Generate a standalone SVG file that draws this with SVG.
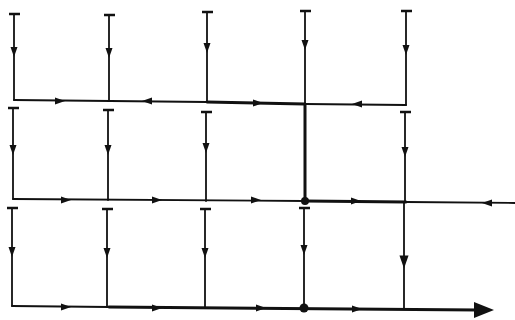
<svg xmlns="http://www.w3.org/2000/svg" width="515" height="320" viewBox="0 0 515 320">
<style>
.ln{stroke:#111;stroke-width:1.8;fill:none;stroke-linecap:round}
.tk{stroke:#111;stroke-width:3;fill:none;stroke-linecap:round}
.cap{stroke:#111;stroke-width:2.5;stroke-linecap:butt}
.ah{fill:#111}
.dot{fill:#111}
</style>
<defs>
<path id="a" class="ah" d="M-3.5,-5 L3.5,-5 L0,5 Z"/>
</defs>
<rect width="515" height="320" fill="#fff"/>
<g id="connectors">
<!-- horizontal rows -->
<path class="ln" d="M14,100 L207,102"/>
<path class="tk" d="M207,102 L305,104"/>
<path class="ln" d="M305,104 L406,105"/>
<path class="ln" d="M13,199 L305,201"/>
<path class="tk" d="M305,201 L406,202"/>
<path class="ln" d="M406,202 L515,203"/>
<path class="ln" d="M12,306 L109,307"/>
<path class="tk" d="M109,307 L478,310"/>
<!-- verticals row 1 -->
<path class="ln" d="M14,14 L14,100"/>
<path class="ln" d="M109,15 L109,101"/>
<path class="ln" d="M207,12 L207,102"/>
<path class="ln" d="M305,11 L305,104"/>
<path class="ln" d="M406,11 L406,105"/>
<!-- verticals row 2 -->
<path class="ln" d="M13,108 L13,199"/>
<path class="ln" d="M108,110 L108,200"/>
<path class="ln" d="M206,112 L206,201"/>
<path class="tk" d="M305,104 L305,201"/>
<path class="ln" d="M405,112 L405,202"/>
<!-- verticals row 3 -->
<path class="ln" d="M12,208 L12,306"/>
<path class="ln" d="M107,209 L107,307"/>
<path class="ln" d="M205,209 L205,308"/>
<path class="ln" d="M304,208 L304,308"/>
<path class="ln" d="M404,202 L404,309"/>
<!-- arrows down -->
<use href="#a" transform="translate(14,52)"/>
<use href="#a" transform="translate(109,53)"/>
<use href="#a" transform="translate(207,48)"/>
<use href="#a" transform="translate(305,45)"/>
<use href="#a" transform="translate(406,50)"/>
<use href="#a" transform="translate(13,150)"/>
<use href="#a" transform="translate(108,150)"/>
<use href="#a" transform="translate(206,148)"/>
<use href="#a" transform="translate(405,152)"/>
<use href="#a" transform="translate(12,252)"/>
<use href="#a" transform="translate(107,253)"/>
<use href="#a" transform="translate(205,253)"/>
<use href="#a" transform="translate(304,250)"/>
<use href="#a" transform="translate(404,262) scale(1.3)"/>
<!-- arrows row 1 -->
<use href="#a" transform="translate(60,101) rotate(-90)"/>
<use href="#a" transform="translate(147,101) rotate(90)"/>
<use href="#a" transform="translate(258,103) rotate(-90)"/>
<use href="#a" transform="translate(357,104) rotate(90)"/>
<!-- arrows row 2 -->
<use href="#a" transform="translate(66,200) rotate(-90)"/>
<use href="#a" transform="translate(157,200) rotate(-90)"/>
<use href="#a" transform="translate(256,200) rotate(-90)"/>
<use href="#a" transform="translate(356,201) rotate(-90)"/>
<use href="#a" transform="translate(487,203) rotate(90)"/>
<!-- arrows row 3 -->
<use href="#a" transform="translate(66,307) rotate(-90)"/>
<use href="#a" transform="translate(157,308) rotate(-90)"/>
<use href="#a" transform="translate(261,308) rotate(-90)"/>
<use href="#a" transform="translate(357,309) rotate(-90)"/>
<path class="ah" d="M474,302 L494,310 L474,318 Z"/>
</g>
<g id="node-caps">
<path class="cap" d="M9,14 H20 M104,15 H115 M202,12 H213 M300,11 H311 M401,11 H412"/>
<path class="cap" d="M8,108 H19 M103,110 H114 M201,112 H212 M400,112 H411"/>
<path class="cap" d="M7,208 H18 M102,209 H113 M200,209 H211 M299,208 H310"/>
</g>
<g id="node-junction-1"><circle class="dot" cx="305" cy="201" r="4"/></g>
<g id="node-junction-2"><circle class="dot" cx="304" cy="308" r="4.5"/></g>
</svg>
